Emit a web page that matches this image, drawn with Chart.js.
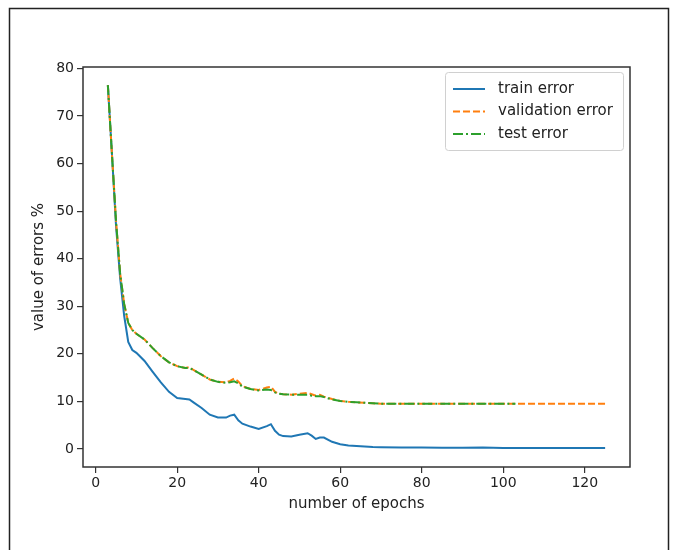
<!DOCTYPE html>
<html><head><meta charset="utf-8">
<script src="https://cdn.jsdelivr.net/npm/chart.js@4/dist/chart.umd.min.js"></script>
<style>html,body{margin:0;padding:0;background:#fff;}#wrap{width:674px;height:550px;position:relative;}</style>
</head><body><div id="wrap"><canvas id="c" width="674" height="550"></canvas></div>
<script>
const epochs = [3,4,5,6,7,8,9,10,12,14,16,18,20,22,23,24,26,28,30,32,33,34,35,36,38,40,42,43,44,45,46,48,50,52,53,54,55,56,58,60,62,64,66,68,70,75,80,85,90,95,100,103,105,110,115,120,125];
const trainError = [76.5,62,47,36,28,22.5,20.8,20.2,18.5,16.2,14,12,10.7,10.5,10.4,9.8,8.6,7.2,6.6,6.6,7.0,7.2,6.0,5.3,4.7,4.2,4.8,5.2,3.8,3.0,2.7,2.6,3.0,3.3,2.8,2.1,2.4,2.4,1.5,1.0,0.7,0.6,0.5,0.4,0.35,0.3,0.3,0.25,0.25,0.3,0.2,0.2,0.2,0.2,0.2,0.2,0.2];
const validationError = [76.5,62,48,37,30.5,26.5,25,24.2,23,21.2,19.5,18.2,17.4,17.0,17.2,16.6,15.6,14.6,14.1,14.0,14.3,14.8,14.2,13.2,12.6,12.4,12.9,13.1,12.0,11.6,11.5,11.4,11.6,11.8,11.5,11.2,11.4,11.0,10.5,10.1,9.9,9.8,9.7,9.6,9.5,9.5,9.5,9.5,9.5,9.5,9.5,9.5,9.5,9.5,9.5,9.5,9.5];
const testError = [76.5,62,48,37,30.5,26.5,25,24.2,23,21.2,19.5,18.2,17.4,17.0,17.0,16.6,15.6,14.6,14.1,13.9,14.0,14.2,13.8,13.1,12.6,12.3,12.5,12.4,11.9,11.6,11.5,11.4,11.4,11.4,11.2,11.1,11.1,10.9,10.4,10.1,9.9,9.8,9.7,9.6,9.5,9.5,9.5,9.5,9.5,9.5,9.5,9.5];
const seriesNames = ['train error','validation error','test error'];
const xAxisLabel = 'number of epochs';
const yAxisLabel = 'value of errors %';

function pts(vals){ return vals.map((v,i)=>({x:epochs[i], y:v})); }

const FONT = 'DejaVu Sans';
const TXT = '#222';

const framePlugin = {
  id:'frame',
  beforeDraw(chart){
    const ctx = chart.ctx;
    ctx.save(); ctx.fillStyle='#fff'; ctx.fillRect(0,0,chart.width,chart.height); ctx.restore();
  },
  afterDraw(chart){
    const ctx = chart.ctx, a = chart.chartArea;
    ctx.save();
    ctx.strokeStyle = '#333'; ctx.lineWidth = 1.5;
    ctx.strokeRect(a.left, a.top, a.right-a.left, a.bottom-a.top);
    ctx.strokeStyle = '#222'; ctx.lineWidth = 1.5;
    ctx.beginPath(); ctx.moveTo(9.5,550); ctx.lineTo(9.5,8.5); ctx.lineTo(668.5,8.5); ctx.lineTo(668.5,550); ctx.stroke();
    const x0=445, y0=72, w=178, h=78;
    ctx.fillStyle='rgba(255,255,255,0.85)'; ctx.strokeStyle='#d0d0d0'; ctx.lineWidth=1;
    ctx.beginPath(); ctx.roundRect(x0+0.5,y0+0.5,w,h,3); ctx.fill(); ctx.stroke();
    const ds = chart.data.datasets;
    ctx.font = '15px "'+FONT+'"'; ctx.textBaseline='middle'; ctx.textAlign='left';
    ds.forEach((d,i)=>{
      const y = 89 + i*22.5;
      ctx.strokeStyle=d.borderColor; ctx.lineWidth=d.borderWidth; ctx.setLineDash(d.borderDash||[]);
      ctx.beginPath(); ctx.moveTo(453,y); ctx.lineTo(485,y); ctx.stroke();
      ctx.setLineDash([]);
      ctx.fillStyle=TXT; ctx.fillText(d.label, 498, y);
    });
    ctx.restore();
  }
};

new Chart(document.getElementById('c'), {
  type:'line',
  data:{ datasets:[
    {label:seriesNames[0], data:pts(trainError), borderColor:'#1f77b4', borderWidth:2, pointRadius:0, tension:0, fill:false, order:3},
    {label:seriesNames[1], data:pts(validationError), borderColor:'#ff7f0e', borderWidth:2, borderDash:[7,3], pointRadius:0, tension:0, fill:false, order:2},
    {label:seriesNames[2], data:pts(testError), borderColor:'#2ca02c', borderWidth:2, borderDash:[10,3,2,3], pointRadius:0, tension:0, fill:false, order:1}
  ]},
  options:{
    responsive:false, devicePixelRatio:1, animation:false,
    layout:{padding:{left:30,top:67,right:44,bottom:37}},
    plugins:{legend:{display:false}, tooltip:{enabled:false}},
    scales:{
      x:{type:'linear', min:-3.1, max:131.1,
        afterFit(s){ s.height=46; },
        border:{display:false},
        grid:{drawOnChartArea:false, drawTicks:true, tickLength:6, color:'#333', lineWidth:1.2},
        ticks:{stepSize:20, includeBounds:false, color:TXT, font:{family:FONT,size:14}, padding:2, maxRotation:0},
        title:{display:true, text:xAxisLabel, color:TXT, font:{family:FONT,size:15}, padding:{top:2,bottom:0}}
      },
      y:{type:'linear', min:-3.8, max:80.3,
        afterFit(s){ s.width=53; },
        border:{display:false},
        grid:{drawOnChartArea:false, drawTicks:true, tickLength:6, color:'#333', lineWidth:1.2},
        ticks:{stepSize:10, includeBounds:false, color:TXT, font:{family:FONT,size:14}, padding:3},
        title:{display:true, text:yAxisLabel, color:TXT, font:{family:FONT,size:15}, padding:{top:0,bottom:4}}
      }
    }
  },
  plugins:[framePlugin]
});
</script></body></html>
